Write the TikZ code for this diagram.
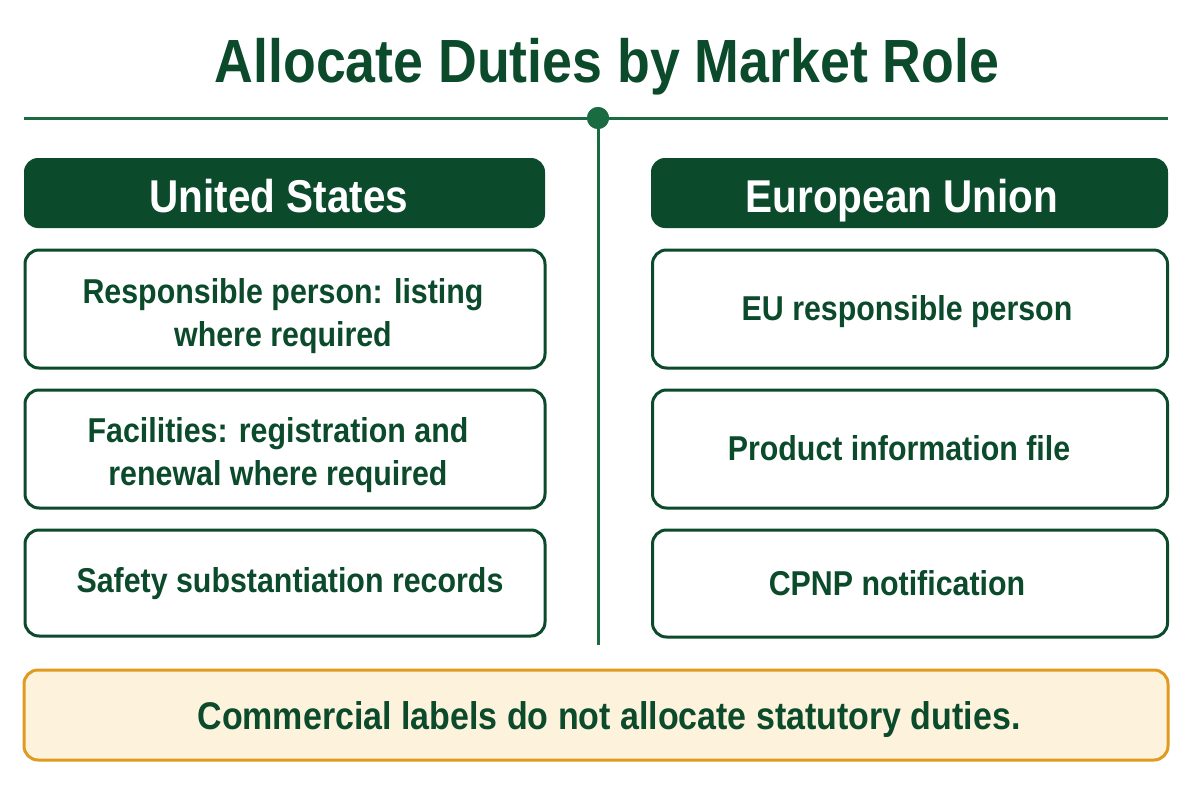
\documentclass[tikz,border=0pt]{standalone}
\usepackage{fontspec}
\setmainfont{Liberation Sans}[FakeStretch=0.88]
\definecolor{dgreen}{HTML}{0B4A2B}
\definecolor{lgreen}{HTML}{1A6A42}
\definecolor{bfill}{HTML}{FDF3DC}
\definecolor{bline}{HTML}{E09A1F}
\begin{document}
\begin{tikzpicture}[x=1pt,y=-1pt,
  titletext/.style={font=\fontsize{61}{70}\selectfont\bfseries, text=dgreen, inner sep=0, anchor=base},
  header/.style={fill=dgreen, rounded corners=14pt, inner sep=0},
  htext/.style={text=white, font=\fontsize{46}{52}\selectfont\bfseries, inner sep=0, anchor=base},
  dutybox/.style={draw=dgreen, line width=3pt, fill=white, rounded corners=14pt, inner sep=0},
  dtext/.style={text=dgreen, align=center, font=\fontsize{34.5}{43}\selectfont\bfseries, inner sep=0, anchor=base},
  notebox/.style={draw=bline, line width=3pt, fill=bfill, rounded corners=14pt, inner sep=0},
  ntext/.style={text=dgreen, font=\fontsize{38.6}{44}\selectfont\bfseries, inner sep=0, anchor=base},
  rule/.style={draw=lgreen, line width=3pt},
  hub/.style={circle, fill=lgreen, minimum size=22pt, inner sep=0}]
\useasboundingbox[fill=white] (0,0) rectangle (1200,800);
\node[titletext] (title) at (607,83) {Allocate Duties by Market Role};
\coordinate (rl) at (24,118);
\coordinate (rr) at (1168,118);
\coordinate (vb) at (598,645);
\node[hub] (dot) at (598,118) {};
\draw[rule] (rl) -- (dot.west);
\draw[rule] (dot.east) -- (rr);
\draw[rule] (dot.south) -- (vb);
\node[hub] at (598,118) {};
% left column
\node[header, minimum width=521pt, minimum height=70pt] (us) at (284.5,193) {};
\node[htext] (ust) at (279,212) {United States};
\node[dutybox, minimum width=520pt, minimum height=118pt] (us1) at (285,309) {};
\node[dtext] (us1t) at (283,346) {Responsible person: listing\\where required};
\node[dutybox, minimum width=520pt, minimum height=118pt] (us2) at (285,449) {};
\node[dtext] (us2t) at (278,485) {Facilities: registration and\\renewal where required};
\node[dutybox, minimum width=520pt, minimum height=106pt] (us3) at (285,583) {};
\node[dtext] (us3t) at (290,592) {Safety substantiation records};
% right column
\node[header, minimum width=517pt, minimum height=70pt] (eu) at (909.5,193) {};
\node[htext] (eut) at (902,212) {European Union};
\node[dutybox, minimum width=515pt, minimum height=118pt] (eu1) at (910,309) {};
\node[dtext] (eu1t) at (907,320) {EU responsible person};
\node[dutybox, minimum width=515pt, minimum height=118pt] (eu2) at (910,449) {};
\node[dtext] (eu2t) at (899,460) {Product information file};
\node[dutybox, minimum width=515pt, minimum height=107pt] (eu3) at (910,583.5) {};
\node[dtext] (eu3t) at (897,595) {CPNP notification};
% note
\node[notebox, minimum width=1144pt, minimum height=90pt] (note) at (596,715) {};
\node[ntext] (notet) at (609,729) {Commercial labels do not allocate statutory duties.};
\end{tikzpicture}
\end{document}
